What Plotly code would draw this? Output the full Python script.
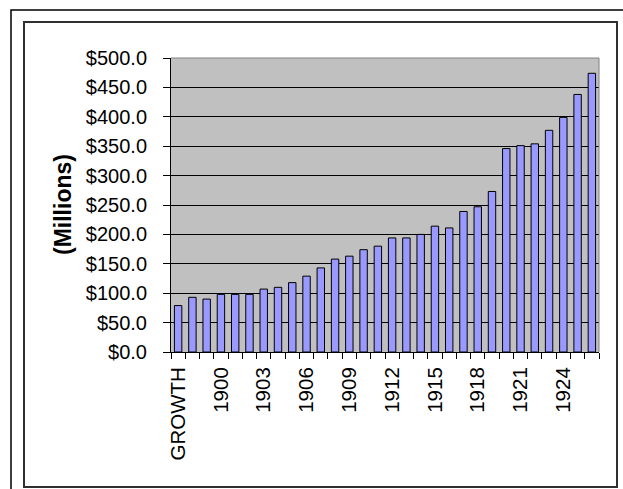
import plotly.graph_objects as go

categories = ["GROWTH"] + [str(y) for y in range(1898, 1927)]
values = [79, 93, 90, 98, 98, 98, 107, 110, 118, 129, 143, 158, 163, 174, 180,
          194, 194, 200, 214, 211, 239, 247, 273, 346, 351, 354, 377, 399, 438, 474]
y_ticks = list(range(0, 501, 50))

W, H = 623, 489
L, R, T, B = 171, 599, 58, 352  # plot area in pixels

def px_x(p):
    return (p - L) / (R - L)

def px_y(p):
    return (B - p) / (B - T)

idx = list(range(len(categories)))

fig = go.Figure(go.Bar(
    x=idx, y=values,
    marker=dict(color="#9999FF", line=dict(color="black", width=1)),
    width=0.52,
))

font = "Arial, Liberation Sans, sans-serif"

fig.update_layout(
    width=W, height=H, autosize=False,
    margin=dict(l=L, r=W - R, t=T, b=H - B, pad=0),
    paper_bgcolor="white", plot_bgcolor="#C0C0C0",
    showlegend=False,
    font=dict(family=font, size=20, color="black"),
)

fig.update_xaxes(
    range=[-0.5, len(categories) - 0.5],
    tickmode="array", tickvals=idx[::3], ticktext=categories[::3],
    tickangle=-90, ticks="", ticklabelstandoff=6,
    showline=True, linecolor="black", linewidth=1,
    showgrid=False, zeroline=False,
    tickfont=dict(family=font, size=20.5, color="black"),
    minor=dict(tickmode="array", tickvals=[i - 0.5 for i in idx] + [idx[-1] + 0.5],
               ticks="outside", ticklen=6, tickwidth=1, tickcolor="black", showgrid=False),
)

fig.update_yaxes(
    range=[0, 500], tickmode="array", tickvals=y_ticks,
    ticktext=["$%.1f" % v for v in y_ticks],
    ticks="outside", ticklen=7, tickwidth=1, tickcolor="black",
    ticklabelstandoff=12,
    showline=True, linecolor="black", linewidth=1,
    showgrid=True, gridcolor="black", gridwidth=1,
    zeroline=False,
    tickfont=dict(family=font, size=20, color="black"),
)

shapes = [
    # plot-area border (top and right)
    dict(type="line", xref="paper", yref="paper", x0=0, x1=1, y0=1, y1=1,
         line=dict(color="#808080", width=1)),
    dict(type="line", xref="paper", yref="paper", x0=1, x1=1, y0=0, y1=1,
         line=dict(color="#808080", width=1)),
    # outer frame
    dict(type="path", xref="paper", yref="paper",
         path="M %f %f L %f %f L %f %f" % (px_x(11), px_y(495), px_x(11), px_y(10), px_x(630), px_y(10)),
         line=dict(color="black", width=1.5)),
    # inner frame
    dict(type="rect", xref="paper", yref="paper",
         x0=px_x(24), x1=px_x(617), y0=px_y(487), y1=px_y(22),
         line=dict(color="#303030", width=2)),
]
fig.update_layout(shapes=shapes)

fig.add_annotation(
    text="<b>(Millions)</b>", textangle=-90,
    xref="paper", yref="paper", x=px_x(63), y=0.5,
    xanchor="center", yanchor="middle", showarrow=False,
    font=dict(family=font, size=23, color="black"),
)

fig.write_html(
    "out.html",
    config={"displayModeBar": False},
    post_script="document.body.style.margin='0px';document.body.style.overflow='hidden';",
)
